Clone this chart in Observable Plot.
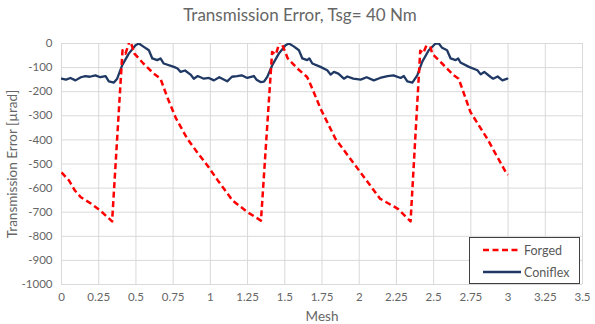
<!DOCTYPE html>
<html>
<head>
<meta charset="utf-8">
<script src="https://cdn.jsdelivr.net/npm/d3@7"></script>
<script src="https://cdn.jsdelivr.net/npm/@observablehq/plot@0.6"></script>
<style>
  html, body { margin: 0; padding: 0; background: #fff; }
  #wrap { position: relative; width: 595px; height: 324px; font-family: Lato, "Open Sans", sans-serif; }
  #title { position: absolute; left: 0; top: 4px; width: 600px; text-align: center; font-size: 17px; color: #666; }
  #chart { position: absolute; left: 0; top: 30px; }
  #legend { position: absolute; left: 469px; top: 237px; width: 109px; height: 45px; border: 1px solid #404040; background: #fff; font-size: 12.5px; color: #595959; }
  .lrow { position: absolute; left: 13px; height: 14px; display: flex; align-items: center; }
  .lrow span { margin-left: 3px; }
</style>
</head>
<body>
<div id="wrap">
  <div id="title">Transmission Error, Tsg= 40 Nm</div>
  <div id="chart"></div>
  <div id="legend">
    <div class="lrow" style="top:5px"><svg width="38" height="6"><line x1="0" y1="3" x2="38" y2="3" stroke="#ff0000" stroke-width="2.5" stroke-dasharray="6,3.5"/></svg><span>Forged</span></div>
    <div class="lrow" style="top:27px"><svg width="38" height="6"><line x1="0" y1="3" x2="38" y2="3" stroke="#1f3864" stroke-width="2.5"/></svg><span>Coniflex</span></div>
  </div>
</div>
<script>
const seriesNames = ["Forged", "Coniflex"];

const forgedX = [0, 0.05, 0.09, 0.13, 0.2, 0.26, 0.34, 0.41, 0.43, 0.46, 0.49, 0.55, 0.62, 0.665, 0.71, 0.77, 0.845, 0.91, 0.98, 1.05, 1.15, 1.25, 1.34,
  1.415, 1.44, 1.47, 1.52, 1.585, 1.65, 1.675, 1.74, 1.84, 1.94, 2.04, 2.14, 2.26, 2.345,
  2.41, 2.43, 2.467, 2.49, 2.557, 2.635, 2.668, 2.747, 2.86, 2.99, 3.0];
const forgedY = [-535, -568, -610, -638, -665, -693, -738, -28, -42, 15, -42, -83, -125, -146, -222, -312, -395, -450, -506, -568, -652, -700, -735,
  -35, -45, 15, -62, -104, -139, -173, -270, -395, -478, -561, -644, -686, -738,
  -30, -40, 15, -42, -83, -132, -146, -284, -395, -540, -545];

const coniflexX = [0, 0.03, 0.06, 0.094, 0.13, 0.16, 0.19, 0.228, 0.26, 0.296, 0.318, 0.352, 0.374, 0.408, 0.452, 0.497, 0.52, 0.553, 0.587, 0.61, 0.643, 0.665, 0.687, 0.755, 0.78, 0.8, 0.83, 0.867, 0.889, 0.915, 0.956, 0.99, 1.024, 1.06, 1.113, 1.145, 1.18, 1.21, 1.248,
  1.292, 1.31, 1.337, 1.36, 1.382, 1.416, 1.46, 1.505, 1.528, 1.56, 1.595, 1.618, 1.65, 1.665, 1.685, 1.74, 1.785, 1.808, 1.83, 1.86, 1.897, 1.92, 1.96, 2.01, 2.05, 2.098, 2.14, 2.19, 2.23, 2.278,
  2.3, 2.323, 2.357, 2.39, 2.423, 2.467, 2.513, 2.535, 2.557, 2.59, 2.614, 2.648, 2.665, 2.68, 2.737, 2.794, 2.816, 2.84, 2.883, 2.9, 2.93, 2.962, 2.995];
const coniflexY = [-146, -150, -143, -153, -140, -135, -138, -132, -140, -135, -157, -162, -146, -90, -42, -7, 0, -14, -28, -62, -69, -62, -83, -97, -104, -118, -112, -129, -146, -135, -146, -143, -153, -140, -157, -138, -135, -132, -143,
  -135, -150, -160, -158, -139, -90, -42, -7, 0, -12, -28, -62, -69, -62, -83, -97, -111, -129, -118, -125, -146, -137, -146, -150, -140, -153, -143, -135, -132, -143,
  -135, -157, -162, -132, -76, -28, 0, 0, -18, -28, -62, -69, -62, -79, -97, -111, -128, -118, -139, -146, -137, -153, -146];

const xTicks = [0, 0.25, 0.5, 0.75, 1, 1.25, 1.5, 1.75, 2, 2.25, 2.5, 2.75, 3, 3.25, 3.5];
const yTicks = [0, -100, -200, -300, -400, -500, -600, -700, -800, -900, -1000];

const forged = forgedX.map((x, i) => ({x, y: forgedY[i]}));
const coniflex = coniflexX.map((x, i) => ({x, y: coniflexY[i]}));

const chart = Plot.plot({
  width: 595,
  height: 294,
  marginLeft: 61,
  marginRight: 13,
  marginTop: 13,
  marginBottom: 40,
  style: {fontFamily: "Lato, 'Open Sans', sans-serif", color: "#666", background: "#fff"},
  x: {domain: [0, 3.5]},
  y: {domain: [-1000, 0]},
  marks: [
    Plot.gridX(xTicks, {stroke: "#d9d9d9", strokeOpacity: 1, strokeWidth: 1}),
    Plot.gridY(yTicks, {stroke: "#d9d9d9", strokeOpacity: 1, strokeWidth: 1}),
    Plot.axisX({ticks: xTicks, tickSize: 0, tickPadding: 8, tickFormat: d => String(d), fontSize: 11.5, label: "Mesh", labelAnchor: "center", labelArrow: "none", labelOffset: 36}),
    Plot.axisY({ticks: yTicks, tickSize: 0, tickPadding: 9, tickFormat: d => String(d), fontSize: 11.5, label: "Transmission Error [µrad]", labelAnchor: "center", labelArrow: "none", labelOffset: 54}),
    Plot.line(coniflex, {x: "x", y: "y", stroke: "#1f3864", strokeWidth: 2.3, strokeLinejoin: "round", clip: true}),
    Plot.line(forged, {x: "x", y: "y", stroke: "#ff0000", strokeWidth: 2.5, strokeDasharray: "6,3.5", strokeLinecap: "butt", clip: true})
  ]
});
chart.querySelectorAll("[aria-label='x-axis label'] text, [aria-label='y-axis label'] text").forEach(t => t.style.fontSize = "13.5px");
chart.querySelectorAll("path[stroke='#ff0000'], g[stroke='#ff0000'], g[stroke='#ff0000'] path").forEach(p => {
  p.setAttribute("stroke-dasharray", "6,3.5");
  p.style.strokeDasharray = "6,3.5";
});
document.getElementById("chart").appendChild(chart);
</script>
</body>
</html>
